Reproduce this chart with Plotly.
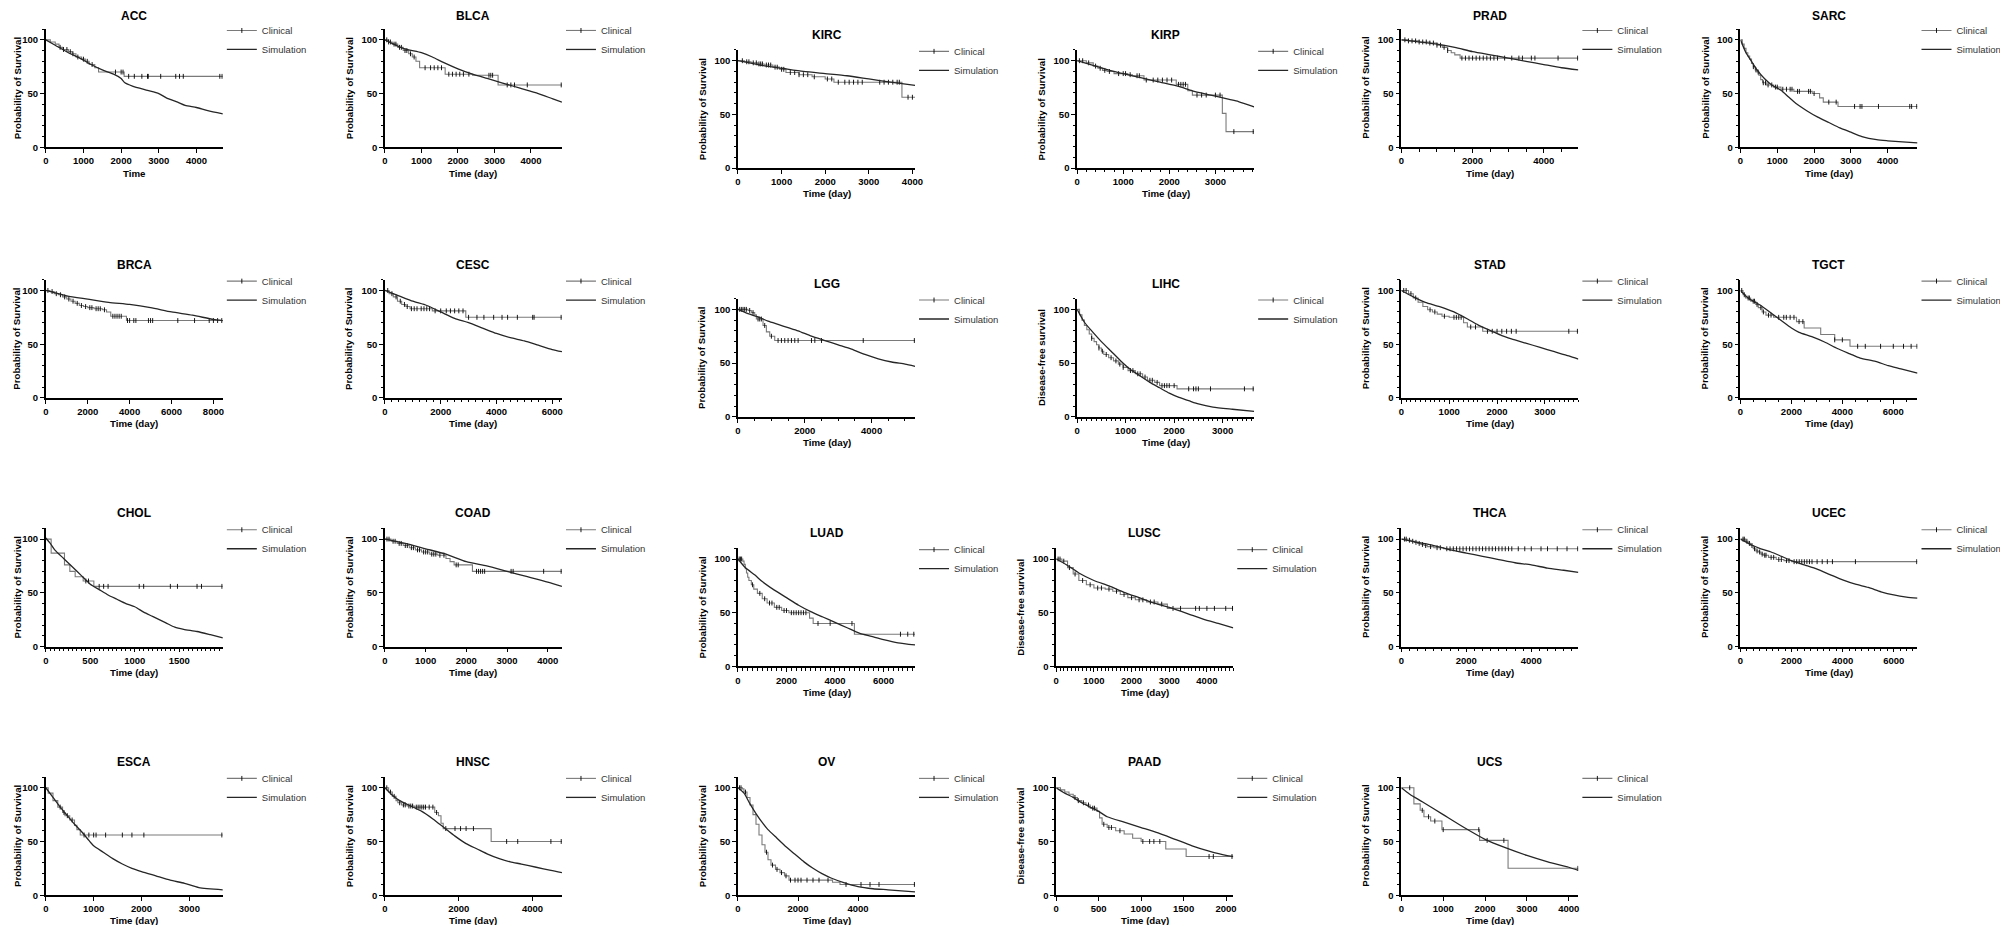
import numpy as np
import plotly.graph_objects as go

W, H = 2008, 925

CANCERS = ["ACC", "BLCA", "KIRC", "KIRP", "PRAD", "SARC",
           "BRCA", "CESC", "LGG", "LIHC", "STAD", "TGCT",
           "CHOL", "COAD", "LUAD", "LUSC", "THCA", "UCEC",
           "ESCA", "HNSC", "OV", "PAAD", "UCS"]

PROB = "Probability of Survival"
DFS = "Disease-free survival"
Y_TITLES = [PROB, PROB, PROB, PROB, PROB, PROB,
            PROB, PROB, PROB, DFS, PROB, PROB,
            PROB, PROB, PROB, DFS, PROB, PROB,
            PROB, PROB, PROB, DFS, PROB]
X_TITLES = ["Time"] + ["Time (day)"] * 22

X_MAX = [4700, 4850, 4060, 3840, 4970, 4810,
         8450, 6350, 5300, 3650, 3700, 6950,
         1990, 4350, 7300, 4700, 5450, 6930,
         3700, 4800, 5900, 2085, 4230]
X_DTICK = [1000, 1000, 1000, 1000, 2000, 1000,
           2000, 2000, 2000, 1000, 1000, 2000,
           500, 1000, 2000, 1000, 2000, 2000,
           1000, 2000, 2000, 500, 1000]
Y_TICKS = [0, 50, 100]

# ---- clinical (Kaplan-Meier) steps, censor times, simulation curves ----
ACC_CLIN_T = [0, 120, 250, 350, 450, 600, 700, 800, 950, 1050, 1150, 1300, 1400, 2080, 4700]
ACC_CLIN_S = [100, 98, 96, 93, 91, 89, 87, 84, 82, 80, 77, 74, 70, 66, 66]
ACC_CENSOR = [380, 470, 560, 650, 720, 850, 1000, 1100, 1230, 1850, 2000, 2050, 2200, 2350,
              2550, 2700, 2720, 3050, 3450, 3550, 3650, 4620, 4680]
ACC_SIM_T = [0, 250, 600, 900, 1200, 1500, 1800, 2000, 2100, 2300, 2700, 3000, 3200, 3500, 3700, 4000, 4300, 4700]
ACC_SIM_S = [100, 95, 88, 83, 77, 72, 68, 64, 60, 57, 53, 50, 46, 42, 39, 37, 34, 31]

BLCA_CLIN_T = [0, 100, 200, 350, 500, 650, 750, 850, 950, 1650, 2400, 3100, 4850]
BLCA_CLIN_S = [100, 98, 96, 93, 90, 87, 84, 80, 74, 68, 67, 58, 58]
BLCA_CENSOR = [50, 100, 150, 250, 300, 400, 450, 550, 600, 700, 800, 1100, 1250, 1350, 1450, 1550,
               1750, 1850, 1950, 2050, 2150, 2300, 2850, 2900, 2950, 3350, 3450, 3550, 3900, 4830]
BLCA_SIM_T = [0, 500, 1000, 1300, 1600, 2000, 2400, 2800, 3200, 3700, 4200, 4600, 4850]
BLCA_SIM_S = [100, 92, 88, 84, 79, 73, 68, 64, 60, 55, 50, 45, 42]

KIRC_CLIN_T = [0, 150, 300, 450, 600, 800, 950, 1100, 1400, 1700, 2000, 2200, 3760, 4060]
KIRC_CLIN_S = [100, 99, 98, 97, 96, 94, 92, 89, 87, 85, 83, 80, 66, 66]
KIRC_CENSOR = [100, 200, 250, 350, 420, 480, 520, 560, 650, 700, 750, 850, 900, 1000, 1050, 1200,
               1300, 1400, 1500, 1600, 1750, 2050, 2150, 2300, 2450, 2550, 2650, 2750, 2850, 3250,
               3350, 3450, 3550, 3650, 3700, 3900, 4000]
KIRC_SIM_T = [0, 500, 1000, 1500, 2000, 2500, 3000, 3500, 4060]
KIRC_SIM_S = [100, 96, 93, 90, 88, 86, 83, 80, 77]

KIRP_CLIN_T = [0, 200, 350, 450, 550, 650, 800, 1100, 1200, 1450, 2150, 2400, 2500, 3150, 3230, 3840]
KIRP_CLIN_S = [100, 98, 95, 93, 91, 90, 88, 87, 86, 82, 78, 72, 68, 51, 34, 34]
KIRP_CENSOR = [50, 120, 250, 400, 500, 600, 700, 900, 1000, 1050, 1150, 1300, 1350, 1500, 1650,
               1750, 1850, 1950, 2050, 2200, 2250, 2300, 2350, 2600, 2700, 2800, 3000, 3100, 3400, 3820]
KIRP_SIM_T = [0, 400, 700, 1000, 1400, 1800, 2200, 2500, 2900, 3300, 3500, 3840]
KIRP_SIM_S = [100, 95, 91, 88, 84, 80, 76, 72, 68, 64, 62, 57]

PRAD_CLIN_T = [0, 200, 500, 800, 1000, 1150, 1300, 1400, 1500, 1650, 4970]
PRAD_CLIN_S = [100, 99, 98, 97, 95, 93, 90, 88, 86, 83, 83]
PRAD_CENSOR = [100, 200, 300, 400, 500, 600, 700, 800, 900, 1000, 1100, 1200, 1300, 1700, 1800,
               1900, 2000, 2100, 2200, 2300, 2400, 2500, 2600, 2700, 2900, 3100, 3300, 3400, 3650,
               3750, 4400, 4950]
PRAD_SIM_T = [0, 1000, 1500, 2000, 2500, 3000, 3500, 4000, 4500, 4970]
PRAD_SIM_S = [100, 96, 93, 89, 86, 83, 80, 77, 74, 72]

SARC_CLIN_T = [0, 50, 100, 150, 200, 250, 300, 350, 400, 450, 500, 550, 600, 700, 900, 1100,
               1450, 1950, 2150, 2250, 2650, 4810]
SARC_CLIN_S = [100, 96, 92, 88, 85, 82, 78, 75, 72, 70, 67, 63, 60, 58, 56, 54, 52, 50, 46, 42, 38, 38]
SARC_CENSOR = [350, 420, 480, 620, 680, 750, 850, 950, 1000, 1150, 1250, 1350, 1400, 1550, 1600,
               1850, 1900, 2000, 2400, 2600, 3100, 3250, 3300, 3750, 4600, 4650, 4790]
SARC_SIM_T = [0, 150, 300, 450, 650, 850, 1100, 1300, 1500, 1800, 2100, 2400, 2700, 3000, 3300,
              3700, 4000, 4400, 4810]
SARC_SIM_S = [100, 88, 80, 72, 64, 58, 53, 47, 41, 34, 28, 23, 18, 14, 10, 7, 6, 5, 4]

BRCA_CLIN_T = [0, 200, 400, 600, 800, 1000, 1200, 1400, 1600, 1800, 2000, 2300, 2700, 2900, 3100, 3850, 8450]
BRCA_CLIN_S = [100, 99, 97, 96, 94, 92, 90, 88, 86, 85, 84, 83, 82, 80, 76, 72, 72]
BRCA_CENSOR = [100, 300, 500, 700, 900, 1100, 1300, 1500, 1700, 1900, 2100, 2200, 2400, 2500, 2600,
               2800, 3200, 3300, 3400, 3500, 3600, 3900, 4000, 4200, 4300, 4900, 5000, 5100, 6300,
               7100, 7800, 8000, 8200, 8400]
BRCA_SIM_T = [0, 1000, 2000, 3000, 4000, 5000, 6000, 7000, 8000, 8450]
BRCA_SIM_S = [100, 95, 92, 89, 87, 84, 80, 77, 73, 72]

CESC_CLIN_T = [0, 150, 300, 450, 600, 750, 900, 1700, 2900, 6350]
CESC_CLIN_S = [100, 97, 94, 90, 87, 85, 83, 81, 75, 75]
CESC_CENSOR = [100, 250, 400, 550, 700, 800, 950, 1050, 1150, 1300, 1400, 1500, 1600, 1800, 2000,
               2200, 2350, 2500, 2650, 2800, 3000, 3300, 3550, 3900, 4200, 4400, 4750, 5300, 5350, 6320]
CESC_SIM_T = [0, 500, 1000, 1500, 2000, 2500, 3000, 3500, 4000, 4500, 5000, 5500, 6000, 6350]
CESC_SIM_S = [100, 95, 90, 86, 80, 74, 70, 65, 60, 56, 53, 49, 45, 43]

LGG_CLIN_T = [0, 300, 400, 500, 550, 750, 850, 950, 1100, 5300]
LGG_CLIN_S = [100, 99, 97, 95, 91, 85, 79, 75, 71, 71]
LGG_CENSOR = [50, 100, 150, 200, 250, 350, 450, 600, 650, 700, 800, 1000, 1200, 1300, 1400, 1500,
              1600, 1700, 1800, 2200, 2300, 2500, 3750, 5280]
LGG_SIM_T = [0, 300, 600, 900, 1200, 1500, 1800, 2200, 2600, 3000, 3400, 3800, 4200, 4600, 5000, 5300]
LGG_SIM_S = [100, 96, 93, 89, 86, 83, 80, 75, 71, 67, 63, 58, 54, 51, 49, 47]

LIHC_CLIN_T = [0, 50, 100, 150, 200, 250, 300, 350, 400, 450, 500, 550, 650, 750, 850, 950, 1050,
               1200, 1350, 1450, 1600, 1700, 2060, 3650]
LIHC_CLIN_S = [100, 95, 90, 85, 81, 77, 73, 70, 67, 64, 61, 58, 55, 52, 49, 46, 43, 40, 37, 34, 32, 29, 26, 26]
LIHC_CENSOR = [300, 450, 520, 600, 700, 800, 880, 950, 1100, 1150, 1250, 1300, 1400, 1500, 1550,
               1650, 1750, 1800, 1850, 1900, 2000, 2300, 2400, 2450, 2500, 2750, 3450, 3630]
LIHC_SIM_T = [0, 150, 300, 500, 700, 900, 1100, 1300, 1500, 1700, 1900, 2100, 2300, 2500, 2800, 3200, 3650]
LIHC_SIM_S = [100, 88, 80, 70, 61, 52, 44, 38, 32, 27, 22, 18, 15, 12, 9, 7, 5]

STAD_CLIN_T = [0, 150, 250, 350, 450, 550, 650, 750, 850, 1000, 1300, 1380, 1700, 3700]
STAD_CLIN_S = [100, 97, 93, 89, 85, 82, 80, 78, 76, 75, 70, 66, 62, 62]
STAD_CENSOR = [50, 100, 200, 300, 600, 700, 900, 1100, 1150, 1200, 1250, 1450, 1550, 1800, 1900,
               2000, 2100, 2200, 2300, 2400, 3500, 3680]
STAD_SIM_T = [0, 250, 500, 800, 1100, 1400, 1600, 1900, 2100, 2300, 2600, 2900, 3200, 3500, 3700]
STAD_SIM_S = [100, 94, 89, 85, 80, 73, 68, 62, 58, 55, 51, 47, 43, 39, 36]

TGCT_CLIN_T = [0, 100, 200, 400, 600, 700, 850, 1000, 1300, 2200, 2500, 3150, 3700, 4300, 6950]
TGCT_CLIN_S = [100, 96, 93, 90, 87, 84, 80, 77, 75, 71, 65, 59, 54, 48, 48]
TGCT_CENSOR = [50, 150, 300, 350, 500, 550, 650, 800, 900, 1100, 1200, 1500, 1700, 1800, 1950,
               2100, 2300, 2450, 3700, 4000, 4600, 4900, 5500, 6000, 6400, 6700, 6930]
TGCT_SIM_T = [0, 300, 800, 1200, 1600, 2000, 2300, 2800, 3300, 3800, 4300, 4700, 5300, 5800, 6300, 6950]
TGCT_SIM_S = [100, 93, 86, 79, 72, 65, 61, 57, 52, 46, 41, 37, 34, 30, 27, 23]

CHOL_CLIN_T = [0, 60, 210, 270, 330, 420, 540, 1990]
CHOL_CLIN_S = [100, 87, 76, 70, 65, 61, 56, 56]
CHOL_CENSOR = [450, 480, 600, 650, 700, 1050, 1100, 1400, 1480, 1700, 1750, 1980]
CHOL_SIM_T = [0, 50, 100, 200, 300, 400, 500, 600, 700, 800, 900, 1000, 1100, 1200, 1350, 1450,
              1550, 1700, 1850, 1990]
CHOL_SIM_S = [101, 96, 90, 82, 74, 66, 58, 53, 48, 44, 40, 37, 32, 28, 22, 18, 16, 14, 11, 8]

COAD_CLIN_T = [0, 150, 300, 450, 600, 750, 900, 1100, 1300, 1500, 1600, 1700, 2150, 4350]
COAD_CLIN_S = [100, 98, 96, 94, 92, 90, 88, 86, 85, 82, 79, 76, 70, 70]
COAD_CENSOR = [50, 100, 200, 250, 350, 400, 500, 550, 650, 700, 800, 850, 950, 1000, 1050, 1150,
               1200, 1250, 1350, 1450, 1750, 1800, 2250, 2300, 2350, 2400, 2450, 3100, 3150, 3900, 4330]
COAD_SIM_T = [0, 500, 1000, 1500, 2000, 2500, 3000, 3500, 4000, 4350]
COAD_SIM_S = [100, 96, 91, 86, 79, 75, 70, 65, 60, 56]

LUAD_CLIN_T = [0, 200, 250, 300, 350, 400, 450, 550, 650, 800, 1000, 1200, 1500, 1800, 2100,
               2950, 3100, 4800, 7300]
LUAD_CLIN_S = [100, 98, 95, 91, 87, 83, 80, 76, 72, 68, 63, 59, 55, 52, 50, 45, 40, 30, 30]
LUAD_CENSOR = [50, 100, 150, 600, 900, 1100, 1300, 1400, 1600, 1700, 1900, 2000, 2200, 2300, 2400,
               2500, 2600, 2700, 2800, 3300, 3800, 4700, 6700, 7000, 7250]
LUAD_SIM_T = [0, 300, 700, 1000, 1500, 2000, 2500, 3000, 3500, 4000, 4500, 5000, 5500, 6000, 6600, 7300]
LUAD_SIM_S = [100, 92, 85, 79, 71, 64, 57, 51, 46, 41, 36, 31, 28, 25, 22, 20]

LUSC_CLIN_T = [0, 150, 300, 450, 600, 800, 1000, 1300, 1500, 1700, 1900, 2100, 2400, 2700, 2950, 4700]
LUSC_CLIN_S = [100, 98, 92, 86, 80, 76, 73, 72, 70, 67, 64, 62, 60, 58, 54, 54]
LUSC_CENSOR = [50, 100, 200, 350, 500, 700, 900, 1100, 1200, 1400, 1600, 1800, 2000, 2200, 2300,
               2500, 2600, 2800, 3100, 3300, 3700, 3800, 4000, 4200, 4500, 4680]
LUSC_SIM_T = [0, 300, 600, 1000, 1400, 1800, 2200, 2600, 3000, 3500, 3900, 4300, 4700]
LUSC_SIM_S = [100, 94, 87, 80, 75, 69, 64, 59, 55, 49, 44, 40, 36]

THCA_CLIN_T = [0, 200, 300, 400, 500, 600, 700, 800, 1000, 1300, 5450]
THCA_CLIN_S = [100, 99, 98, 97, 96, 95, 94, 93, 92, 91, 91]
THCA_CENSOR = [100, 150, 250, 350, 450, 550, 650, 750, 900, 1100, 1200, 1400, 1500, 1600, 1700,
               1800, 1900, 2000, 2100, 2200, 2300, 2400, 2500, 2600, 2700, 2800, 2900, 3000, 3100,
               3200, 3300, 3400, 3600, 3800, 4000, 4300, 4500, 4800, 5100, 5430]
THCA_SIM_T = [0, 500, 1000, 1500, 2000, 2500, 3000, 3500, 4000, 4500, 5000, 5450]
THCA_SIM_S = [100, 97, 94, 90, 87, 84, 81, 78, 76, 73, 71, 69]

UCEC_CLIN_T = [0, 200, 300, 400, 500, 600, 700, 800, 900, 1100, 1400, 1700, 2000, 6930]
UCEC_CLIN_S = [100, 98, 96, 94, 91, 89, 88, 86, 85, 83, 81, 80, 79, 79]
UCEC_CENSOR = [100, 150, 250, 350, 450, 550, 650, 750, 850, 950, 1000, 1200, 1300, 1500, 1600,
               1800, 1900, 2100, 2200, 2300, 2400, 2500, 2600, 2700, 2800, 3000, 3200, 3400, 3600,
               4500, 6900]
UCEC_SIM_T = [0, 400, 800, 1200, 1600, 2000, 2500, 3000, 3500, 4000, 4500, 5000, 5500, 6000, 6500, 6930]
UCEC_SIM_S = [100, 95, 91, 88, 84, 80, 76, 72, 67, 62, 58, 55, 51, 48, 46, 45]

ESCA_CLIN_T = [0, 50, 150, 250, 350, 400, 500, 600, 650, 720, 3700]
ESCA_CLIN_S = [100, 95, 88, 82, 77, 74, 70, 65, 61, 56, 56]
ESCA_CENSOR = [300, 380, 450, 550, 800, 900, 1000, 1050, 1250, 1600, 1800, 2050, 3680]
ESCA_SIM_T = [0, 150, 300, 450, 600, 750, 900, 1000, 1200, 1400, 1600, 1800, 2000, 2300, 2600,
              2900, 3200, 3700]
ESCA_SIM_S = [100, 91, 82, 74, 66, 59, 51, 46, 40, 34, 29, 25, 22, 18, 14, 11, 7, 5]

HNSC_CLIN_T = [0, 100, 200, 300, 350, 450, 600, 800, 1350, 1450, 1520, 1580, 2880, 4800]
HNSC_CLIN_S = [100, 96, 92, 88, 86, 84, 83, 82, 77, 74, 67, 62, 50, 50]
HNSC_CENSOR = [50, 150, 250, 400, 500, 550, 650, 700, 750, 850, 900, 950, 1000, 1050, 1100, 1200,
               1300, 1400, 1650, 1900, 2050, 2200, 2400, 3300, 3600, 4500, 4780]
HNSC_SIM_T = [0, 200, 400, 700, 1000, 1300, 1600, 1900, 2200, 2500, 2800, 3100, 3400, 3700, 4100, 4500, 4800]
HNSC_SIM_S = [100, 93, 88, 83, 78, 71, 63, 55, 48, 43, 38, 34, 31, 29, 26, 23, 21]

OV_CLIN_T = [0, 150, 200, 300, 400, 500, 600, 700, 800, 900, 1000, 1100, 1250, 1400, 1550, 1700,
             3150, 3400, 5900]
OV_CLIN_S = [100, 99, 96, 91, 84, 75, 66, 56, 47, 40, 33, 28, 24, 21, 18, 14, 12, 10, 10]
OV_CENSOR = [50, 100, 250, 950, 1150, 1300, 1450, 1600, 1750, 1900, 2000, 2100, 2300, 2500, 2700,
             3000, 3600, 4100, 4400, 4700, 5880]
OV_SIM_T = [0, 200, 400, 600, 800, 1000, 1300, 1600, 1900, 2200, 2500, 2800, 3100, 3500, 4000,
            4500, 5000, 5900]
OV_SIM_S = [100, 95, 85, 76, 68, 61, 53, 45, 38, 31, 25, 20, 16, 12, 8, 6, 5, 3]

PAAD_CLIN_T = [0, 50, 100, 150, 200, 250, 300, 350, 400, 480, 510, 540, 600, 700, 800, 900, 1000,
               1290, 1530, 2085]
PAAD_CLIN_S = [100, 98, 96, 94, 91, 88, 86, 84, 81, 78, 72, 66, 63, 60, 57, 53, 50, 43, 36, 36]
PAAD_CENSOR = [220, 260, 320, 380, 430, 450, 560, 620, 650, 750, 1020, 1100, 1150, 1220, 1800, 1850, 2070]
PAAD_SIM_T = [0, 100, 200, 300, 400, 500, 600, 800, 1000, 1200, 1400, 1600, 1800, 2000, 2085]
PAAD_SIM_S = [100, 95, 91, 86, 82, 78, 73, 68, 63, 58, 52, 46, 41, 37, 36]

UCS_CLIN_T = [0, 300, 450, 540, 700, 970, 1870, 2550, 4230]
UCS_CLIN_S = [100, 85, 79, 73, 69, 61, 51, 25, 25]
UCS_CENSOR = [200, 500, 650, 800, 1000, 1850, 2050, 2450, 4220]
UCS_SIM_T = [0, 200, 500, 1000, 1500, 2000, 2500, 3000, 3500, 4000, 4230]
UCS_SIM_S = [100, 94, 87, 75, 63, 52, 44, 37, 31, 26, 23]

PANELS = [
    (ACC_CLIN_T, ACC_CLIN_S, ACC_CENSOR, ACC_SIM_T, ACC_SIM_S),
    (BLCA_CLIN_T, BLCA_CLIN_S, BLCA_CENSOR, BLCA_SIM_T, BLCA_SIM_S),
    (KIRC_CLIN_T, KIRC_CLIN_S, KIRC_CENSOR, KIRC_SIM_T, KIRC_SIM_S),
    (KIRP_CLIN_T, KIRP_CLIN_S, KIRP_CENSOR, KIRP_SIM_T, KIRP_SIM_S),
    (PRAD_CLIN_T, PRAD_CLIN_S, PRAD_CENSOR, PRAD_SIM_T, PRAD_SIM_S),
    (SARC_CLIN_T, SARC_CLIN_S, SARC_CENSOR, SARC_SIM_T, SARC_SIM_S),
    (BRCA_CLIN_T, BRCA_CLIN_S, BRCA_CENSOR, BRCA_SIM_T, BRCA_SIM_S),
    (CESC_CLIN_T, CESC_CLIN_S, CESC_CENSOR, CESC_SIM_T, CESC_SIM_S),
    (LGG_CLIN_T, LGG_CLIN_S, LGG_CENSOR, LGG_SIM_T, LGG_SIM_S),
    (LIHC_CLIN_T, LIHC_CLIN_S, LIHC_CENSOR, LIHC_SIM_T, LIHC_SIM_S),
    (STAD_CLIN_T, STAD_CLIN_S, STAD_CENSOR, STAD_SIM_T, STAD_SIM_S),
    (TGCT_CLIN_T, TGCT_CLIN_S, TGCT_CENSOR, TGCT_SIM_T, TGCT_SIM_S),
    (CHOL_CLIN_T, CHOL_CLIN_S, CHOL_CENSOR, CHOL_SIM_T, CHOL_SIM_S),
    (COAD_CLIN_T, COAD_CLIN_S, COAD_CENSOR, COAD_SIM_T, COAD_SIM_S),
    (LUAD_CLIN_T, LUAD_CLIN_S, LUAD_CENSOR, LUAD_SIM_T, LUAD_SIM_S),
    (LUSC_CLIN_T, LUSC_CLIN_S, LUSC_CENSOR, LUSC_SIM_T, LUSC_SIM_S),
    (THCA_CLIN_T, THCA_CLIN_S, THCA_CENSOR, THCA_SIM_T, THCA_SIM_S),
    (UCEC_CLIN_T, UCEC_CLIN_S, UCEC_CENSOR, UCEC_SIM_T, UCEC_SIM_S),
    (ESCA_CLIN_T, ESCA_CLIN_S, ESCA_CENSOR, ESCA_SIM_T, ESCA_SIM_S),
    (HNSC_CLIN_T, HNSC_CLIN_S, HNSC_CENSOR, HNSC_SIM_T, HNSC_SIM_S),
    (OV_CLIN_T, OV_CLIN_S, OV_CENSOR, OV_SIM_T, OV_SIM_S),
    (PAAD_CLIN_T, PAAD_CLIN_S, PAAD_CENSOR, PAAD_SIM_T, PAAD_SIM_S),
    (UCS_CLIN_T, UCS_CLIN_S, UCS_CENSOR, UCS_SIM_T, UCS_SIM_S),
]

# ---- panel placement (pixels) and per-panel axis styling ----
AXIS_LEFT = [35, 376, 731, 1072, 1398, 1739,
             35, 376, 731, 1072, 1398, 1739,
             35, 376, 731, 1051, 1398, 1739,
             35, 376, 731, 1051, 1398]
Y100_PX = [32, 32, 53, 53, 32, 32,
           284, 284, 303, 303, 284, 284,
           534, 534, 554, 554, 534, 534,
           784, 784, 784, 784, 784]
X_MINOR = [None, None, None, 200, 500, None,
           None, 250, 500, 100, 100, 500,
           50, None, 200, 100, 250, 250,
           None, None, None, None, None]

PLOT_W = 178
UNIT = 1.08          # px per survival percent
FONT = "Liberation Sans, Arial, sans-serif"
CLIN_COLOR = "#7a7a7a"
SIM_COLOR = "#262626"


def px_x(v):
    return v / W


def px_y(v):
    return 1 - v / H


fig = go.Figure()
layout = {}
annotations = []

for i, name in enumerate(CANCERS):
    n = "" if i == 0 else str(i + 1)
    ct, cs, cens, st, ss = PANELS[i]
    x0 = AXIS_LEFT[i]
    y100 = Y100_PX[i]
    y0 = y100 + 100 * UNIT
    ytop = y100 - 10 * UNIT
    leg = "legend" + n

    # censored subjects sit on the step curve
    idx = np.searchsorted(ct, cens, side="right") - 1
    cens_y = np.array(cs)[idx]
    gx, gy = [], []
    for cx, cy in zip(cens, cens_y):
        gx += [cx, None]
        gy += [float(cy), None]

    fig.add_trace(go.Scatter(
        x=ct, y=cs, mode="lines", line=dict(shape="hv", color=CLIN_COLOR, width=1.1),
        xaxis="x" + n, yaxis="y" + n, showlegend=False, legend=leg, hoverinfo="skip",
    ))
    fig.add_trace(go.Scatter(
        x=gx, y=gy, mode="lines+markers", name="Clinical",
        line=dict(color=CLIN_COLOR, width=1.1),
        marker=dict(symbol="line-ns", size=3.5, line=dict(color="black", width=0.9)),
        xaxis="x" + n, yaxis="y" + n, legend=leg, hoverinfo="skip",
    ))
    fig.add_trace(go.Scatter(
        x=st, y=ss, mode="lines", name="Simulation",
        line=dict(color=SIM_COLOR, width=1.3, shape="spline", smoothing=0.6),
        xaxis="x" + n, yaxis="y" + n, legend=leg, hoverinfo="skip",
    ))

    xaxis = dict(
        domain=[px_x(x0), px_x(x0 + PLOT_W)], anchor="y" + n,
        range=[0, X_MAX[i]], tick0=0, dtick=X_DTICK[i],
        showgrid=False, zeroline=False, showline=True, linecolor="black", linewidth=1.6,
        ticks="outside", ticklen=4, tickwidth=1.3, tickcolor="black",
        tickfont=dict(family=FONT, size=9.5, color="black", weight="bold"),
    )
    if X_MINOR[i]:
        xaxis["minor"] = dict(dtick=X_MINOR[i], tick0=0, ticks="outside", ticklen=2.5,
                              tickwidth=1, tickcolor="black")
    layout["xaxis" + n] = xaxis
    layout["yaxis" + n] = dict(
        domain=[px_y(y0), px_y(ytop)], anchor="x" + n,
        range=[0, 110], tickvals=Y_TICKS,
        showgrid=False, zeroline=False, showline=True, linecolor="black", linewidth=1.6,
        ticks="outside", ticklen=4, tickwidth=1.3, tickcolor="black",
        tickfont=dict(family=FONT, size=9.5, color="black", weight="bold"),
        minor=dict(dtick=10, tick0=0, ticks="outside", ticklen=2.5, tickwidth=1, tickcolor="black"),
    )
    layout[leg] = dict(
        x=px_x(x0 + 177), y=px_y(y100 - 24), xanchor="left", yanchor="top",
        font=dict(family=FONT, size=9.5, color="#333333"),
        bgcolor="rgba(0,0,0,0)", borderwidth=0, tracegroupgap=0, itemwidth=30,
    )

    cx_mid = px_x(x0 + PLOT_W / 2)
    annotations.append(dict(
        text=name, x=cx_mid, y=px_y(max(y100 - 26, 8)), xref="paper", yref="paper",
        xanchor="center", yanchor="middle", showarrow=False,
        font=dict(family=FONT, size=12, color="black", weight="bold"),
    ))
    annotations.append(dict(
        text=X_TITLES[i], x=cx_mid, y=px_y(min(y0 + 26, H - 8)), xref="paper", yref="paper",
        xanchor="center", yanchor="middle", showarrow=False,
        font=dict(family=FONT, size=9.7, color="black", weight="bold"),
    ))
    annotations.append(dict(
        text=Y_TITLES[i], x=px_x(max(x0 - 36, 6)), y=px_y((y0 + ytop) / 2), xref="paper", yref="paper",
        xanchor="center", yanchor="middle", textangle=-90, showarrow=False,
        font=dict(family=FONT, size=9.7, color="black", weight="bold"),
    ))

fig.update_layout(
    width=W, height=H,
    margin=dict(l=0, r=0, t=0, b=0),
    paper_bgcolor="white", plot_bgcolor="white",
    hovermode=False,
    annotations=annotations,
    **layout,
)

fig.write_html("out.html")
